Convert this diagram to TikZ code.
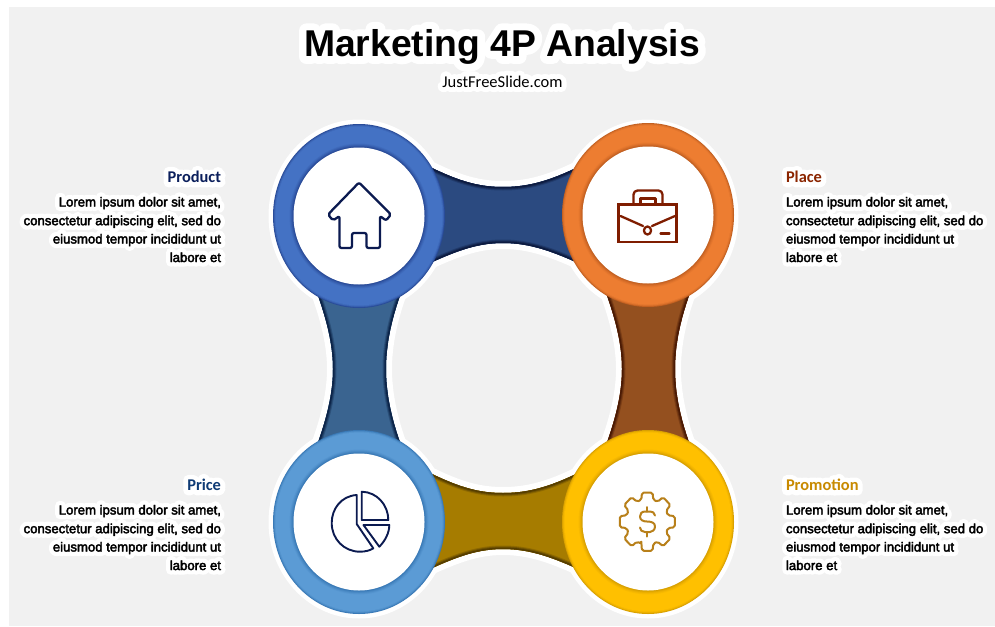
\documentclass[tikz,border=0pt]{standalone}
\usepackage{fontspec}
\usetikzlibrary{shapes.geometric}
\setmainfont{Liberation Sans}
\newfontfamily\carlito{Carlito}
\newfontfamily\carlitob{Carlito Bold}
\newfontfamily\ttlfont{Liberation Sans Bold}
\newfontfamily\bodyfont{Liberation Sans}[FakeBold=3]
\newfontfamily\ttlglow{Liberation Sans Bold}[FakeBold=40]
\newfontfamily\subglow{Carlito}[FakeBold=60]
\newfontfamily\hdglow{Carlito Bold}[FakeBold=60]
\newfontfamily\bodyglow{Liberation Sans}[FakeBold=70]
\definecolor{panel}{HTML}{F1F1F1}
\definecolor{bluedark}{HTML}{1E3A85}\definecolor{bluemid}{HTML}{4472C4}
\definecolor{orgdark}{HTML}{B0541A}\definecolor{orgmid}{HTML}{ED7D31}
\definecolor{skydark}{HTML}{2A6AA8}\definecolor{skymid}{HTML}{5B9BD5}
\definecolor{yeldark}{HTML}{C89200}\definecolor{yelmid}{HTML}{FFC000}
\definecolor{bandA}{HTML}{2B4A80}\definecolor{bandAe}{HTML}{0D1B40}
\definecolor{bandB}{HTML}{3A6490}\definecolor{bandBe}{HTML}{0C2448}
\definecolor{bandC}{HTML}{94501F}\definecolor{bandCe}{HTML}{4A1A04}
\definecolor{bandD}{HTML}{A67C00}\definecolor{bandDe}{HTML}{553D00}
\definecolor{navyicon}{HTML}{0B1A50}\definecolor{redicon}{HTML}{7F1D00}
\definecolor{goldicon}{HTML}{B8801A}
\definecolor{hA}{HTML}{0B1F5C}\definecolor{hB}{HTML}{8B2500}
\definecolor{hC}{HTML}{0F3B75}\definecolor{hD}{HTML}{C88A00}
\tikzset{
  every node/.style={inner sep=0pt,outer sep=0pt},
  icon/.style={line width=2.3pt,line join=round,line cap=round},
  halo/.style={white,line width=12pt,line join=round},
  disc/.style={ellipse,fill=white,minimum width=131pt,minimum height=137pt},
}
\newcommand{\bandtop}{(428,166) .. controls (460,182) and (480,187) .. (503,187) .. controls (526,187) and (548,182) .. (580,166) -- (580,264) .. controls (548,249) and (526,243) .. (503,243) .. controls (480,243) and (460,249) .. (428,264) -- cycle}
\newcommand{\bandleft}{(316,290) .. controls (327,320) and (333,345) .. (333,369) .. controls (333,393) and (327,418) .. (316,448) -- (402,448) .. controls (391,418) and (386,393) .. (386,369) .. controls (386,345) and (391,320) .. (402,290) -- cycle}
\newcommand{\bandfill}[3]{%
 \begin{scope}
  \clip #1;
  \fill[#2] #1;
  \draw[#3!30!#2,line width=7pt] #1;
  \draw[#3!65!#2,line width=5pt] #1;
  \draw[#3,line width=3pt] #1;
 \end{scope}}
\newcommand{\ring}[5]{% x y dark mid name
  \fill[#3!70!#4] (#1,#2) ellipse (86 and 92);
  \fill[#3!40!#4] (#1,#2) ellipse (85.2 and 91.2);
  \fill[#3!15!#4] (#1,#2) ellipse (84.4 and 90.4);
  \fill[#4] (#1,#2) ellipse (83.4 and 89.4);
  \fill[#3!12!#4] (#1,#2) ellipse (69.5 and 72.5);
  \fill[#3!28!#4] (#1,#2) ellipse (68.5 and 71.5);
  \fill[#3!48!#4] (#1,#2) ellipse (67.5 and 70.5);
  \fill[#3!70!#4] (#1,#2) ellipse (66.5 and 69.5);
  \node[disc] (#5) at (#1,#2) {};
}
% name, anchor, x, baseline y, font, glow font, colour, text
\newcommand{\gline}[8]{%
  \node[anchor=#2,text=white,font=#6] (#1g) at (#3,#4) {\special{pdf:code 1 j 1 J}#8};
  \node[anchor=#2,text=#7,font=#5] (#1) at (#3,#4) {#8};
}
\newcommand{\bodyblock}[5]{% prefix anchor x y0 unused
  \gline{#1a}{#2}{#3}{#4}{\bodyfont\fontsize{13.15}{15}\selectfont}{\bodyglow\fontsize{13.15}{15}\selectfont}{black}{Lorem ipsum dolor sit amet,}
  \gline{#1b}{#2}{#3}{#4+18.7}{\bodyfont\fontsize{13.15}{15}\selectfont}{\bodyglow\fontsize{13.15}{15}\selectfont}{black}{consectetur adipiscing elit, sed do}
  \gline{#1c}{#2}{#3}{#4+37}{\bodyfont\fontsize{13.15}{15}\selectfont}{\bodyglow\fontsize{13.15}{15}\selectfont}{black}{eiusmod tempor incididunt ut}
  \gline{#1d}{#2}{#3}{#4+55.5}{\bodyfont\fontsize{13.15}{15}\selectfont}{\bodyglow\fontsize{13.15}{15}\selectfont}{black}{labore et}
}
\begin{document}
\begin{tikzpicture}[x=1pt,y=-1pt]
\useasboundingbox (0,0) rectangle (995,626);
\fill[white] (0,0) rectangle (995,626);
\fill[panel] (9,7) rectangle (995,626);
% white halo
\foreach \cx/\cy in {359/216,648/216,359/522,648/522}
  \fill[white] (\cx,\cy) ellipse (90.5 and 96.5);
\draw[halo] \bandtop;
\begin{scope}[yshift=-306pt]\draw[halo] \bandtop;\end{scope}
\draw[halo] \bandleft;
\begin{scope}[xshift=289pt]\draw[halo] \bandleft;\end{scope}
% bands
\bandfill{\bandtop}{bandA}{bandAe}
\begin{scope}[yshift=-306pt]\bandfill{\bandtop}{bandD}{bandDe}\end{scope}
\bandfill{\bandleft}{bandB}{bandBe}
\begin{scope}[xshift=289pt]\bandfill{\bandleft}{bandC}{bandCe}\end{scope}
% rings
\ring{359}{216}{bluedark}{bluemid}{product}
\ring{648}{215}{orgdark}{orgmid}{place}
\ring{359}{522}{skydark}{skymid}{price}
\ring{648}{522}{yeldark}{yelmid}{promotion}
% house
\draw[icon,navyicon,rounded corners=2pt] (359,182.5) -- (391,214.5) -- (386,220.5) -- (380,216) -- (380,248) -- (366.5,248) -- (366.5,233) -- (352,233) -- (352,248) -- (339.5,248) -- (339.5,216) -- (333,220.5) -- (328,214.5) -- cycle;
% briefcase
\begin{scope}[icon,redicon]
\draw[line join=miter] (618.5,204.5) rectangle (676.5,242);
\draw[rounded corners=4pt] (633.5,204) -- (633.5,190.5) -- (662.5,190.5) -- (662.5,204);
\draw (640.5,204) -- (640.5,198.5) -- (655.5,198.5) -- (655.5,204);
\draw (620.5,216) -- (643,226) (652,226) -- (675,216);
\draw (647.5,230.5) circle (3.6 and 4);
\draw (660.5,233.5) -- (669.5,233.5);
\end{scope}
% pie
\begin{scope}[icon,navyicon,line width=1.9pt]
\draw (356.7,495) .. controls (341,496) and (331.7,509) .. (331.7,523) .. controls (331.7,539) and (344,551.7) .. (360,551.7) .. controls (365,551.7) and (370,550.5) .. (373.3,548.3) -- (356.7,524) -- cycle;
\draw (361.7,491.7) .. controls (377,492) and (388.3,505) .. (388.3,520) -- (361.7,520) -- cycle;
\draw (363.5,525) -- (389.3,525) .. controls (389.3,533) and (385,541) .. (379.3,546.7) -- cycle;
\end{scope}
% gear
\begin{scope}[shift={(647.3,521.7)},yscale=1.06,icon,goldicon,line width=2pt]
\draw[rounded corners=1.8pt] (106:21.5)
  \foreach \a in {90,45,0,-45,-90,-135,-180,-225} { -- (\a+16:21.5) -- (\a+11:28) -- (\a-11:28) -- (\a-16:21.5) } -- cycle;
\end{scope}
\begin{scope}[icon,goldicon,line width=2pt]
\draw (655,515.5) .. controls (655,512.5) and (652,511.5) .. (650,511.5) -- (645,511.5) .. controls (641.5,511.5) and (640,514) .. (640,516.5) .. controls (640,520) and (643,521.5) .. (647,521.5) .. controls (652,521.5) and (655,523) .. (655,526.5) .. controls (655,530) and (652,532) .. (650,532) -- (645,532) .. controls (642,532) and (640,530) .. (640,527.5);
\draw (647.3,507) -- (647.3,511.5) (647.3,532) -- (647.3,536.5);
\end{scope}
% title
\gline{title}{base}{502}{56.5}{\ttlfont\fontsize{37.3}{42}\selectfont}{\ttlglow\fontsize{37.3}{42}\selectfont}{black}{Marketing 4P Analysis}
\gline{sub}{base}{502.5}{87}{\carlito\fontsize{16.5}{18}\selectfont}{\subglow\fontsize{16.5}{18}\selectfont}{black}{JustFreeSlide.com}
% left
\gline{hprod}{base east}{221}{182.5}{\carlitob\fontsize{16.4}{18}\selectfont}{\hdglow\fontsize{16.4}{18}\selectfont}{hA}{Product}
\bodyblock{p1}{base east}{221}{206.5}{}
\gline{hprice}{base east}{221}{490.5}{\carlitob\fontsize{16.4}{18}\selectfont}{\hdglow\fontsize{16.4}{18}\selectfont}{hC}{Price}
\bodyblock{p2}{base east}{221}{514.5}{}
% right
\gline{hplace}{base west}{786}{182.5}{\carlitob\fontsize{16.4}{18}\selectfont}{\hdglow\fontsize{16.4}{18}\selectfont}{hB}{Place}
\bodyblock{p3}{base west}{786}{206.5}{}
\gline{hpromo}{base west}{786}{490.5}{\carlitob\fontsize{16.4}{18}\selectfont}{\hdglow\fontsize{16.4}{18}\selectfont}{hD}{Promotion}
\bodyblock{p4}{base west}{786}{514.5}{}
\end{tikzpicture}
\end{document}
